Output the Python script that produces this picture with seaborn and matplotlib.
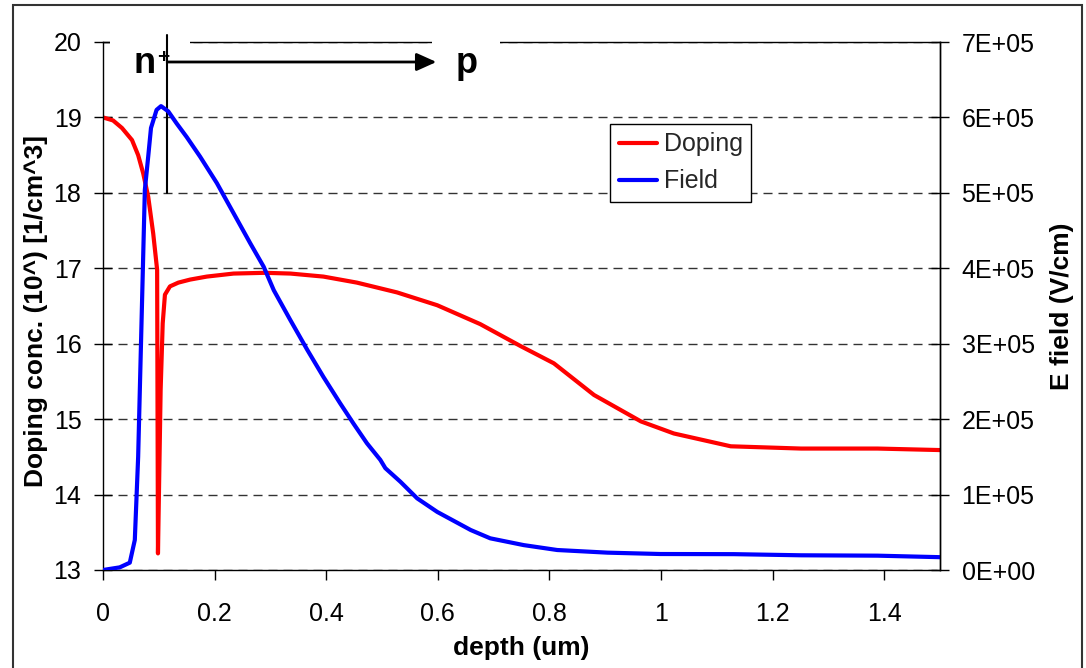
import numpy as np
import matplotlib
matplotlib.use("Agg")
import matplotlib.pyplot as plt
import seaborn as sns
from matplotlib.patches import Rectangle
from matplotlib.ticker import FuncFormatter

# ---- data ----
doping_depth = [0, 0.018, 0.034, 0.052, 0.063, 0.072, 0.081, 0.090, 0.097, 0.0985,
                0.1033, 0.107, 0.111, 0.120, 0.135, 0.156, 0.186, 0.234, 0.29, 0.336,
                0.395, 0.455, 0.527, 0.599, 0.676, 0.748, 0.808, 0.880, 0.964, 1.023,
                1.125, 1.251, 1.388, 1.5]
doping_log = [19.0, 18.96, 18.86, 18.70, 18.50, 18.26, 17.95, 17.46, 16.98, 13.22,
              15.39, 16.27, 16.65, 16.76, 16.81, 16.85, 16.89, 16.93, 16.94, 16.93,
              16.89, 16.81, 16.68, 16.51, 16.26, 15.97, 15.74, 15.32, 14.97, 14.81,
              14.64, 14.61, 14.61, 14.59]

field_depth = [0, 0.030, 0.048, 0.057, 0.063, 0.069, 0.075, 0.081, 0.086, 0.096,
               0.104, 0.117, 0.132, 0.150, 0.174, 0.204, 0.234, 0.264, 0.288, 0.306,
               0.336, 0.366, 0.395, 0.425, 0.449, 0.473, 0.497, 0.506, 0.533, 0.563,
               0.599, 0.659, 0.694, 0.754, 0.814, 0.904, 0.999, 1.131, 1.251, 1.388, 1.5]
field_vcm = [0, 3.5e3, 9.7e3, 3.98e4, 1.50e5, 3.27e5, 5.04e5, 5.48e5, 5.86e5, 6.10e5,
             6.15e5, 6.08e5, 5.92e5, 5.74e5, 5.48e5, 5.13e5, 4.73e5, 4.33e5, 4.02e5, 3.71e5,
             3.31e5, 2.92e5, 2.56e5, 2.21e5, 1.94e5, 1.68e5, 1.46e5, 1.35e5, 1.17e5, 9.5e4,
             7.7e4, 5.3e4, 4.2e4, 3.3e4, 2.65e4, 2.3e4, 2.12e4, 2.1e4, 1.95e4, 1.9e4, 1.7e4]

x_ticks = [0, 0.2, 0.4, 0.6, 0.8, 1.0, 1.2, 1.4]
left_ticks = [13, 14, 15, 16, 17, 18, 19, 20]
right_ticks = [0, 1e5, 2e5, 3e5, 4e5, 5e5, 6e5, 7e5]
series_names = ["Doping", "Field"]

# ---- style ----
sns.set_theme(style="white")
plt.rcParams["font.family"] = ["Liberation Sans", "DejaVu Sans"]

W, H = 1086, 668
fig = plt.figure(figsize=(W / 100, H / 100), dpi=100)
ax = fig.add_axes([103 / W, 98 / H, 837 / W, 528 / H])
ax2 = ax.twinx()

sns.lineplot(x=doping_depth, y=doping_log, ax=ax, color="red", lw=3,
             sort=False, estimator=None, legend=False)
sns.lineplot(x=field_depth, y=field_vcm, ax=ax2, color="blue", lw=3,
             sort=False, estimator=None, legend=False)
h_dop = ax.lines[0]
h_fld = ax2.lines[0]

ax.set_xlim(0, 1.5)
ax.set_ylim(13, 20)
ax2.set_ylim(0, 7e5)

ax.set_xticks(x_ticks)
ax.xaxis.set_major_formatter(FuncFormatter(lambda v, p: f"{v:g}"))
ax.set_yticks(left_ticks)
ax2.set_yticks(right_ticks)
ax2.yaxis.set_major_formatter(
    FuncFormatter(lambda v, p: "0E+00" if v == 0 else f"{int(round(v / 1e5))}E+05"))

ax.yaxis.grid(True, linestyle=(0, (6.5, 4.3)), color="#333333", lw=1)
ax.xaxis.grid(False)
ax2.grid(False)

for s in ["left", "bottom", "top", "right"]:
    ax.spines[s].set_visible(True)
    ax.spines[s].set_color("black")
    ax.spines[s].set_linewidth(1)
for s in ["left", "bottom", "top"]:
    ax2.spines[s].set_visible(False)
ax2.spines["right"].set_color("black")
ax2.spines["right"].set_linewidth(1)

ax.tick_params(axis="x", direction="out", length=7, width=1, color="black",
               labelsize=18, pad=16, bottom=True, labelcolor="black")
ax.tick_params(axis="y", direction="inout", length=13, width=1, color="black",
               labelsize=18, pad=9, left=True, labelcolor="black")
ax2.tick_params(axis="y", direction="inout", length=13, width=1, color="black",
                labelsize=18, pad=9, right=True, labelcolor="black")

ax.set_xlabel("depth (um)", fontsize=19, fontweight="bold", color="black")
ax.xaxis.set_label_coords(0.5, -0.125)
ax.set_ylabel("Doping conc. (10^) [1/cm^3]", fontsize=19, fontweight="bold", color="black")
ax.yaxis.set_label_coords(-0.066, 0.49)
ax2.set_ylabel("E field (V/cm)", fontsize=19, fontweight="bold", color="black")
ax2.yaxis.set_label_coords(1.131, 0.5)

# ---- annotations: n+ -> p ----
ax.add_patch(Rectangle((0.0126, 19.90), 0.1434, 0.22, facecolor="white",
                       edgecolor="none", zorder=3, clip_on=False))
ax.add_patch(Rectangle((0.590, 19.90), 0.122, 0.22, facecolor="white",
                       edgecolor="none", zorder=3, clip_on=False))
ax.plot([0.115, 0.115], [18.0, 20.093], color="black", lw=1.5, clip_on=False, zorder=5)
ax.annotate("", xy=(0.5975, 19.735), xytext=(0.115, 19.735),
            arrowprops=dict(arrowstyle="-|>,head_length=0.6,head_width=0.27",
                            color="black", lw=2, shrinkA=0, shrinkB=0, mutation_scale=20),
            zorder=5, annotation_clip=False)
ax.text(0.054, 19.589, "n", fontsize=26, fontweight="bold", va="baseline", ha="left",
        color="black", zorder=6)
ax.text(0.0975, 19.79, "+", fontsize=15, fontweight="bold", va="center", ha="left",
        color="black", zorder=6)
ax.text(0.6316, 19.589, "p", fontsize=26, fontweight="bold", va="baseline", ha="left",
        color="black", zorder=6)

# ---- legend ----
leg = ax2.legend([h_dop, h_fld], series_names, loc="upper left",
                 bbox_to_anchor=(610 / W, 1 - 124 / H), bbox_transform=fig.transFigure,
                 fontsize=18, frameon=True, fancybox=False, edgecolor="black",
                 framealpha=1, borderpad=0.34, handlelength=1.55, handletextpad=0.25,
                 labelspacing=0.52, borderaxespad=0)
leg.get_frame().set_linewidth(1)

# ---- outer frame ----
fig.add_artist(Rectangle((13 / W, -0.02), (1082 - 13) / W, 1 - 5 / H + 0.02,
                         transform=fig.transFigure, fill=False, edgecolor="#333333", lw=1.5))

fig.savefig("out.png", dpi=100)
